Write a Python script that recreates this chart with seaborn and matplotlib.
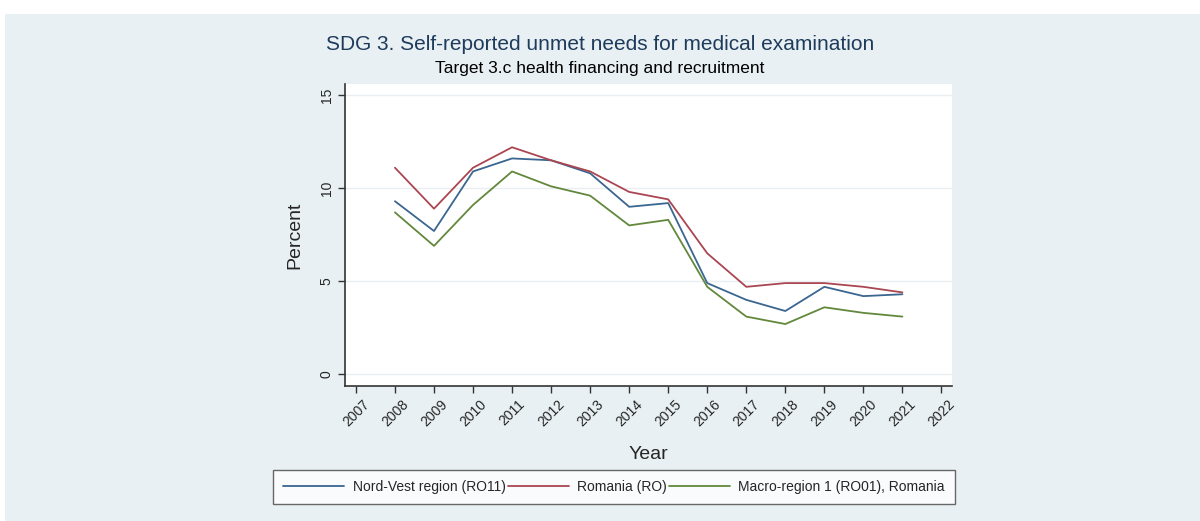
import pandas as pd
import numpy as np
import matplotlib
matplotlib.use("Agg")
import matplotlib.pyplot as plt
import seaborn as sns

sns.set_theme(style="white")
plt.rcParams['font.family'] = ['Liberation Sans', 'DejaVu Sans']

# Data
years = list(range(2008, 2022))
nord_vest = [9.3, 7.7, 10.9, 11.6, 11.5, 10.8, 9.0, 9.2, 4.9, 4.0, 3.4, 4.7, 4.2, 4.3]
romania = [11.1, 8.9, 11.1, 12.2, 11.5, 10.9, 9.8, 9.4, 6.5, 4.7, 4.9, 4.9, 4.7, 4.4]
macro_region = [8.7, 6.9, 9.1, 10.9, 10.1, 9.6, 8.0, 8.3, 4.7, 3.1, 2.7, 3.6, 3.3, 3.1]
series_names = ["Nord-Vest region (RO11)", "Romania (RO)", "Macro-region 1 (RO01), Romania"]
x_ticks = list(range(2007, 2023))
y_ticks = [0, 5, 10, 15]

df = pd.DataFrame({
    'Year': years * 3,
    'Percent': nord_vest + romania + macro_region,
    'Series': [series_names[0]] * len(years) + [series_names[1]] * len(years) + [series_names[2]] * len(years),
})

palette = {series_names[0]: '#3a6690', series_names[1]: '#aa4652', series_names[2]: '#62883c'}
bg = '#e8f0f3'

fig = plt.figure(figsize=(12, 5.21), dpi=100)
fig.patch.set_facecolor('white')
# light graph region, Stata style
fig.patches.append(plt.Rectangle((5 / 1200, 0), 1, 1 - 14 / 521, transform=fig.transFigure,
                                 facecolor=bg, edgecolor='none', zorder=-10))

ax = fig.add_axes([345 / 1200, 1 - 386 / 521, 607 / 1200, 302 / 521])
ax.set_facecolor('white')
sns.lineplot(data=df, x='Year', y='Percent', hue='Series', hue_order=series_names,
             palette=palette, linewidth=1.3, ax=ax, legend=False)

ax.set_xlim(2006.72, 2022.27)
ax.set_ylim(-0.63, 15.6)
ax.set_xticks(x_ticks)
ax.set_xticklabels([str(y) for y in x_ticks], rotation=45, ha='center', fontsize=10)
ax.set_yticks(y_ticks)
ax.set_yticklabels([str(v) for v in y_ticks], rotation=90, va='center', fontsize=10)
ax.tick_params(axis='both', direction='out', length=5, width=1, color='#333333', pad=3)
ax.tick_params(axis='x', bottom=True)
ax.tick_params(axis='y', left=True)

for s in ['top', 'right']:
    ax.spines[s].set_visible(False)
for s in ['left', 'bottom']:
    ax.spines[s].set_color('#333333')
    ax.spines[s].set_linewidth(1.2)
ax.yaxis.grid(True, color='#eaeef0', linewidth=1)
ax.xaxis.grid(False)

ax.set_xlabel('Year', fontsize=14, labelpad=12)
ax.set_ylabel('Percent', fontsize=14, labelpad=12)

fig.text(0.5, 1 - 45 / 521, 'SDG 3. Self-reported unmet needs for medical examination',
         ha='center', va='center', fontsize=15, color='#1f3b5c')
fig.text(0.5, 1 - 68 / 521, 'Target 3.c health financing and recruitment',
         ha='center', va='center', fontsize=12.5, color='black')

handles = [plt.Line2D([], [], color=palette[n], linewidth=1.3) for n in series_names]
leg = fig.legend(handles, series_names, loc='center', ncol=3, bbox_to_anchor=(614 / 1200, 1 - 487 / 521),
                 frameon=True, fancybox=False, fontsize=10, handlelength=4.4, columnspacing=0.15,
                 handletextpad=0.6, borderpad=0.7)
leg.get_frame().set_edgecolor('#444444')
leg.get_frame().set_facecolor('white')
leg.get_frame().set_linewidth(1)

fig.savefig('out.png', dpi=100, facecolor=fig.get_facecolor())
